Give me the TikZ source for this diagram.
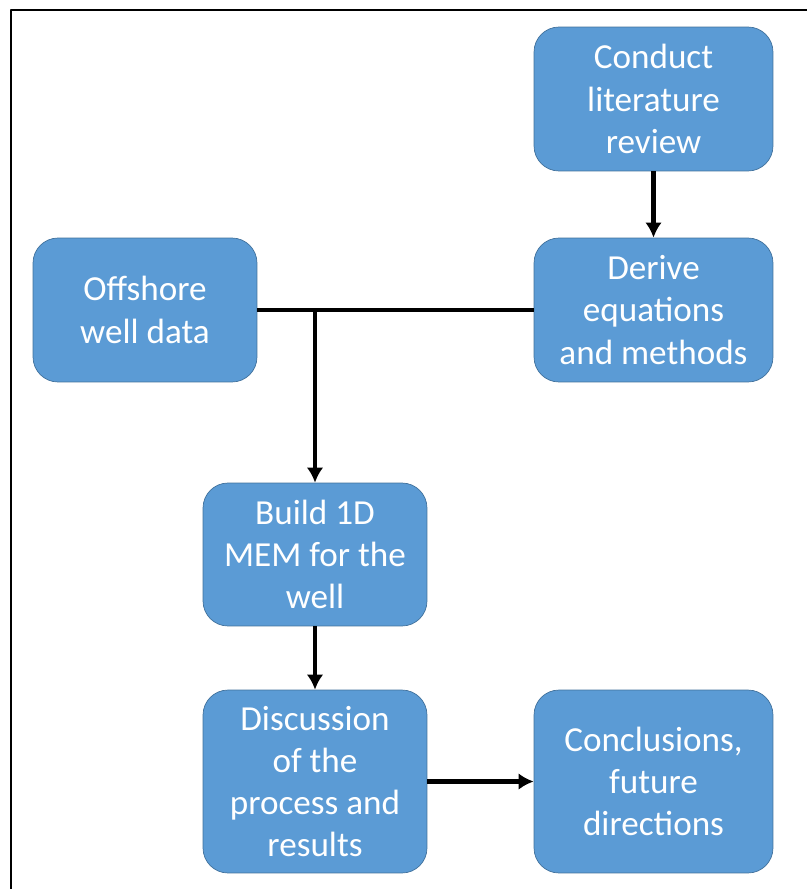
\documentclass[tikz,border=0pt]{standalone}
\usepackage{fontspec}
\setmainfont{Carlito}
\usepackage{tikz}
\usetikzlibrary{shapes,arrows,arrows.meta}

\definecolor{boxblue}{HTML}{5B9BD5}
\definecolor{boxedge}{HTML}{41719C}

\tikzset{
    procbox/.style={draw=boxedge, fill=boxblue, thin, rounded corners=0.5cm,
        text=white, align=center, inner sep=2pt,
        font=\fontsize{20}{24}\selectfont},
    flow/.style={line width=2.4pt},
    flowarrow/.style={flow, -{Latex[length=3mm,width=3.3mm]}}
}

\begin{document}
\begin{tikzpicture}
    [line join=round, x=0.02cm, y=-0.02cm]
\useasboundingbox (0,0) rectangle (807,889);
%frame
\draw[line width=1.3pt] (11,889) -- (11,10) -- (807,10);

%boxes
\node[procbox, minimum width=4.78cm, minimum height=2.88cm] (conduct) at (653.5,99) {Conduct\\literature\\review};
\node[procbox, minimum width=4.78cm, minimum height=2.88cm] (derive) at (653.5,310) {Derive\\equations\\and methods};
\node[procbox, minimum width=4.48cm, minimum height=2.88cm] (offshore) at (145,310) {Offshore\\well data};
\node[procbox, minimum width=4.48cm, minimum height=2.86cm] (build) at (315,554.5) {Build 1D\\MEM for the\\well};
\node[procbox, minimum width=4.48cm, minimum height=3.66cm] (discuss) at (315,781.5) {Discussion\\of the\\process and\\results};
\node[procbox, minimum width=4.78cm, minimum height=3.66cm] (concl) at (653.5,781.5) {Conclusions,\\future\\directions};

%connectors
\draw[flowarrow] (conduct) -- (derive);
\draw[flow] (offshore.east) -- (derive.west);
\draw[flowarrow] (build.north |- offshore.east) -- (build.north);
\draw[flowarrow] (build) -- (discuss);
\draw[flowarrow] (discuss) -- (concl);

\end{tikzpicture}
\end{document}
